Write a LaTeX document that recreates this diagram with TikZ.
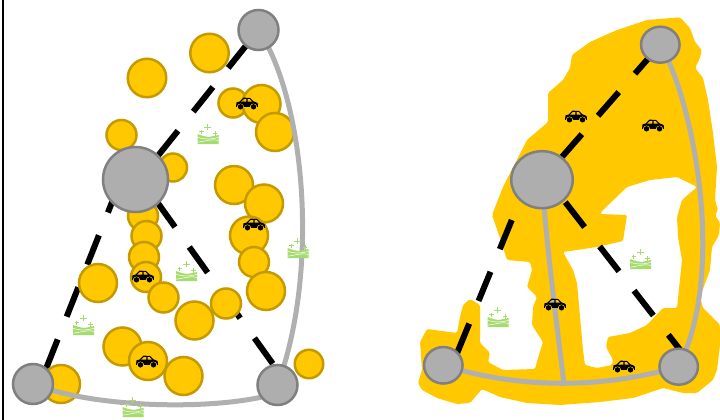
\documentclass[tikz,border=0pt]{standalone}
\usetikzlibrary{shapes.geometric}
\pgfdeclarelayer{blobs}\pgfdeclarelayer{links}\pgfdeclarelayer{spots}\pgfdeclarelayer{roads}
\pgfsetlayers{blobs,links,spots,roads,main}
\definecolor{zone}{HTML}{FFC800}
\definecolor{zoneedge}{HTML}{C49A00}
\definecolor{hubfill}{HTML}{AEAEAE}
\definecolor{hubedge}{HTML}{808080}
\definecolor{roadgrey}{HTML}{B0B0B0}
\definecolor{grassgreen}{HTML}{A6DC6E}
\tikzset{
  x=1pt,y=-1pt,
  hub/.style={ellipse,draw=hubedge,fill=hubfill,line width=2.5pt,inner sep=0pt,outer sep=0pt},
  spot/.style={circle,draw=zoneedge,fill=zone,line width=2.5pt,inner sep=0pt,outer sep=0pt,minimum size=#1},
  road/.style={draw=roadgrey,line width=5pt},
  dashlink/.style={draw=black,line width=6pt,dash pattern=on 31.5pt off 24.5pt,dash phase=#1},
  car/.pic={
    \fill[black,even odd rule] (10.8,3.8) -- (11,0.8) .. controls (10.6,-0.6) and (8,-1.2) .. (6.5,-1.6)
      -- (3,-5) -- (-3.5,-5.4) -- (-7.5,-1.4) -- (-10.5,-0.6) -- (-11,3.8) -- (-10.2,3.8)
      .. controls (-10.2,-0.6) and (-2.8,-0.6) .. (-2.8,3.8) -- (2.8,3.8)
      .. controls (2.8,-0.6) and (10.2,-0.6) .. (10.2,3.8) -- cycle
      (-6.2,-1.4) -- (-3,-4.2) -- (-0.6,-4.2) -- (-0.6,-1.4) -- cycle
      (0.6,-1.4) -- (0.6,-4.2) -- (2.6,-4.2) -- (5.2,-1.4) -- cycle;
    \fill[black] (-6.5,3.8) circle[radius=2.7pt] (6.5,3.8) circle[radius=2.7pt];
  },
  grass/.pic={
    \fill[grassgreen] (-10.5,0) -- (-4,2.2) -- (1,3) -- (10.5,1) -- (10.5,10) -- (-10.5,10) -- cycle;
    \draw[white,line width=0.5pt] (-10.5,3.4) .. controls (-4,5) and (0,6) .. (10.5,3.4)
       (-10.5,8.2) .. controls (-3,7.5) and (3,4.5) .. (10.5,6.5);
    \draw[grassgreen,line width=0.9pt] (-3.6,-7) -- (3.2,-7) (-0.2,-10.2) -- (-0.2,-3.8)
       (-8.8,-2.2) -- (-4.4,-2.2) (-6.6,-4.4) -- (-6.6,0)
       (4.8,-0.6) -- (9.2,-0.6) (7,-2.8) -- (7,1.6);
  }
}
\begin{document}
\begin{tikzpicture}
\useasboundingbox (0,0) rectangle (720,420);
\coordinate (edgetop) at (2.8,0);
\coordinate (edgebot) at (2.8,420);
\draw[black,line width=2.4pt] (edgetop) -- (edgebot);

% left panel hubs
\node[hub,minimum width=40pt,minimum height=40pt] (A) at (258.5,30) {};
\node[hub,minimum width=65pt,minimum height=65pt] (B) at (135.5,179.5) {};
\node[hub,minimum width=40pt,minimum height=40pt] (C) at (33,384) {};
\node[hub,minimum width=40pt,minimum height=40pt] (D) at (277.5,385) {};
% right panel hubs
\node[hub,minimum width=38.5pt,minimum height=36pt] (A2) at (660.3,44.7) {};
\node[hub,minimum width=61.5pt,minimum height=57pt] (B2) at (542,179.7) {};
\node[hub,minimum width=38.5pt,minimum height=36.5pt] (C2) at (443.3,365.3) {};
\node[hub,minimum width=38.5pt,minimum height=36pt] (D2) at (678.7,366.7) {};

\coordinate (ba) at (139,179.5);
\coordinate (bc) at (121,179.5);
\coordinate (cb) at (40,384);
\coordinate (bd) at (141,179.5);
\coordinate (db) at (288,385);
\coordinate (dc) at (277,393);
\coordinate (bc2) at (528,180.5);
\coordinate (cb2) at (452,365.5);
\coordinate (bd2) at (548.4,180.5);
\coordinate (db2) at (693,366.5);
\coordinate (join2) at (564,384);

\begin{pgfonlayer}{links}
  \draw[dashlink=39] (A.center) -- (ba);
  \draw[dashlink=52] (bc) -- (cb);
  \draw[dashlink=29] (bd) -- (db);
  \draw[dashlink=49] (A2.center) -- (B2.center);
  \draw[dashlink=13.3] (bc2) -- (cb2);
  \draw[dashlink=28.5] (bd2) -- (db2);
\end{pgfonlayer}

\begin{pgfonlayer}{roads}
  \draw[road] (A.center) .. controls (305,100) and (320,270) .. (D.center);
  \draw[road] (C.center) .. controls (100,410) and (225,410) .. (dc);
  \draw[road] (A2.center) .. controls (693,100) and (727,270) .. (D2.center);
  \draw[road] (C2.center) .. controls (520,389) and (600,389) .. (D2.center);
  \draw[road] (B2.center) .. controls (546,240) and (555,310) .. (join2);
\end{pgfonlayer}

\begin{pgfonlayer}{spots}
  \foreach \n/\px/\py/\s in {
    s1/209.5/53/38.5, s2/147/78/38.5, s3/121.5/135/30, s4/173/167.5/28, s5/233/103/29,
    s6/261.5/104/38, s7/275/132/38, s8/234/185/38, s9/264/203.5/38,
    s10/143/216/30, s11/146.5/236/30, s12/144/257/30, s13/146/277/30,
    s14/249/235.5/38, s15/254/262/30, s16/266/291/38, s17/98/283/38,
    s18/163.5/297.5/30, s19/194.5/320.5/38, s20/226/303.5/30, s21/122.5/346.5/38,
    s22/148/361/38, s23/183.5/376/38, s24/61/384/38, s25/309/364/28.5}
    {\node[spot=\s pt] (\n) at (\px,\py) {};}
\end{pgfonlayer}

\begin{pgfonlayer}{blobs}
\fill[zone,even odd rule,rounded corners=1.5pt]
 (680,17.3) -- (690,28) -- (695,42) -- (701.7,50) -- (700,58) -- (695,68) -- (703,78) -- (708,100)
 -- (713,133) -- (717,167) -- (715,200) -- (718,210) -- (715,215) -- (720,223) -- (719,235)
 -- (712,247) -- (710,270) -- (700,297) -- (703,308) -- (720,325) -- (720,345) -- (717,370) -- (713,380)
 -- (697,393) -- (683,393) -- (663,388) -- (633,398) -- (600,402) -- (560,405) -- (527,403)
 -- (500,397) -- (482,389) -- (470,403) -- (457,404) -- (437,398) -- (422,390) -- (418,383)
 -- (422,370) -- (420,342) -- (427,329) -- (457,333) -- (460,317) -- (463,305) -- (470,299)
 -- (480,305) -- (480,343) -- (490,353) -- (488,362) -- (503,370) -- (535,369) -- (538,358)
 -- (543,342) -- (532,325) -- (533,307) -- (537,297) -- (527,287) -- (532,270) -- (530,262)
 -- (507,260) -- (500,238) -- (492,215) -- (503,187) -- (527,140) -- (548,122) -- (548,93)
 -- (563,80) -- (570,68) -- (572,55) -- (590,42) -- (617,30) -- (647,20) -- cycle
 (603,210) -- (627,187) -- (650,180) -- (677,177) -- (697,187) -- (682,200) -- (677,217)
 -- (678,237) -- (682,260) -- (677,308) -- (663,308) -- (647,325) -- (630,333) -- (608,337)
 -- (606,347) -- (613,360) -- (612,365) -- (597,368) -- (585,365) -- (583,350) -- (577,283)
 -- (573,270) -- (563,252) -- (597,247) -- (623,241) -- (627,215) -- (600,214) -- cycle;
\end{pgfonlayer}

\foreach \px/\py in {247/103,143/276,147/361,254/224,576/116,653/125,555/304,624/366}
  \pic at (\px,\py) {car};
\foreach \px/\py in {208/134,298/248,186.5/271,83.5/325,133/407,498/317,640.5/259}
  \pic at (\px,\py) {grass};
\end{tikzpicture}
\end{document}
